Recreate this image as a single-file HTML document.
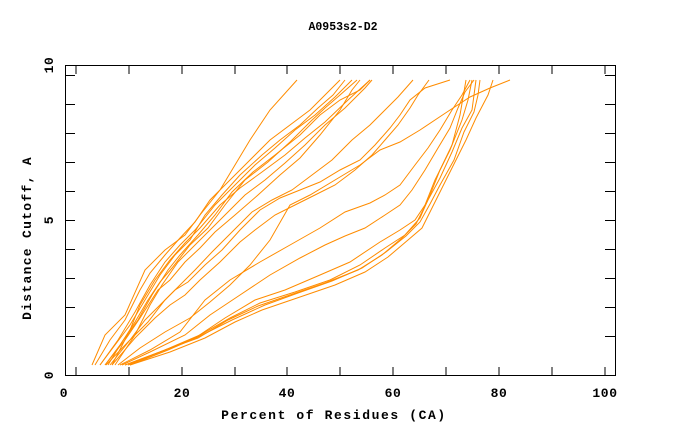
<!DOCTYPE html>
<html><head><meta charset="utf-8"><style>
html,body{margin:0;padding:0;background:#fff;}
svg text{font-family:"Liberation Mono",monospace;font-weight:bold;font-size:13px;fill:#000;}
</style></head><body>
<svg width="680" height="440" xmlns="http://www.w3.org/2000/svg">
<text x="343" y="30" text-anchor="middle" style="font-size:11.5px">A0953s2-D2</text>
<g stroke="#000" stroke-width="1" fill="none">
<rect x="65.5" y="65.5" width="550" height="310"/>
<path d="M76,375v-8M129,375v-8M182,375v-8M235,375v-8M287,375v-8M340,375v-8M393,375v-8M446,375v-8M499,375v-8M552,375v-8M605,375v-8
M76,66v8M129,66v8M182,66v8M235,66v8M287,66v8M340,66v8M393,66v8M446,66v8M499,66v8M552,66v8M605,66v8
M65,75.5h10M65,104.5h10M65,133.5h10M65,162.5h10M65,191.5h10M65,220.5h10M65,249.5h10M65,278.5h10M65,307.5h10M65,336.5h10
M615,75.5h-10M615,104.5h-10M615,133.5h-10M615,162.5h-10M615,191.5h-10M615,220.5h-10M615,249.5h-10M615,278.5h-10M615,307.5h-10M615,336.5h-10"/>
</g>
<g style="letter-spacing:0.6px">
<text x="64" y="397" text-anchor="middle">0</text>
<text x="182" y="397" text-anchor="middle">20</text>
<text x="287" y="397" text-anchor="middle">40</text>
<text x="393" y="397" text-anchor="middle">60</text>
<text x="499" y="397" text-anchor="middle">80</text>
<text x="605" y="397" text-anchor="middle">100</text>
<text transform="translate(53,375) rotate(-90)" text-anchor="middle">0</text>
<text transform="translate(53,220) rotate(-90)" text-anchor="middle">5</text>
<text transform="translate(53,65) rotate(-90)" text-anchor="middle">10</text>
</g>
<text x="334" y="419" text-anchor="middle" style="letter-spacing:1.6px">Percent of Residues (CA)</text>
<text transform="translate(31,238) rotate(-90)" text-anchor="middle" style="letter-spacing:1.3px">Distance Cutoff, A</text>
<g stroke="#ff8c00" stroke-width="1" fill="none">
<polyline points="92,365 105,335 125,315 145,270 165,250 185,235 200,215 220,190 235,165 250,140 270,110 297,80"/>
<polyline points="95,365 110,340 125,320 140,290 150,273 165,255 180,238 195,222 210,200 230,180 250,160 270,140 290,125 310,110 325,95 340,80"/>
<polyline points="100,365 115,345 130,325 145,300 160,275 175,255 190,240 205,215 222,195 240,175 262,155 280,140 300,125 318,108 333,95 345,80"/>
<polyline points="100,365 118,340 135,312 150,285 165,262 180,245 195,230 215,205 235,185 255,165 275,148 295,130 315,115 335,97 352,80"/>
<polyline points="105,365 120,345 135,322 148,300 160,282 172,268 190,245 208,228 225,205 245,180 268,162 290,142 310,122 325,108 340,95 357,80"/>
<polyline points="108,365 122,342 138,320 152,295 168,270 180,255 198,235 215,215 232,192 253,172 275,155 300,135 320,115 340,100 360,90 370,80"/>
<polyline points="112,365 130,330 140,305 155,280 170,260 185,243 200,228 220,205 240,188 262,172 285,155 305,138 325,122 348,100 370,80"/>
<polyline points="115,365 135,335 150,305 162,285 178,262 190,250 205,235 225,215 245,195 265,180 285,163 305,145 325,125 345,108 365,88 372,80"/>
<polyline points="105,365 125,340 140,318 158,290 170,280 185,262 200,248 215,232 235,215 258,195 280,175 300,158 320,135 340,110 352,90 360,80"/>
<polyline points="110,365 130,340 145,320 160,305 175,290 188,282 205,265 222,250 240,230 260,210 280,198 300,190 320,182 340,170 360,160 375,145 390,128 400,115 410,100 425,88 450,80"/>
<polyline points="112,365 135,338 155,318 170,305 185,295 200,280 220,262 240,242 255,230 275,215 295,205 315,195 335,185 355,170 372,155 385,140 398,125 410,108 418,95 429,80"/>
<polyline points="106,365 128,342 148,322 165,300 180,285 195,270 212,252 232,232 252,212 272,200 292,190 312,175 332,160 352,140 370,125 385,110 398,97 413,80"/>
<polyline points="118,365 140,348 165,332 190,318 210,302 230,285 250,265 270,240 290,205 310,195 340,177 360,165 380,150 400,142 420,130 447,112 470,97 490,88 510,80"/>
<polyline points="120,365 150,350 180,332 205,300 230,280 260,262 290,245 320,228 345,212 370,203 385,195 400,185 415,165 428,148 440,130 452,110 462,95 470,80"/>
<polyline points="122,365 150,352 185,335 210,315 240,295 270,275 300,258 325,245 345,236 365,228 385,215 400,205 412,190 425,170 438,148 450,128 458,108 465,92 474,80"/>
<polyline points="125,365 160,352 195,338 225,318 255,300 285,290 320,275 350,262 380,242 400,230 415,220 425,205 435,180 450,150 462,120 468,100 472,80"/>
<polyline points="125,365 165,350 200,335 230,318 260,303 295,292 330,280 360,265 385,248 405,235 420,218 430,195 440,170 452,145 460,115 466,80"/>
<polyline points="128,365 165,350 198,338 228,320 258,306 290,295 325,283 358,270 382,255 402,238 416,224 428,200 440,178 452,152 462,128 472,110 476,80"/>
<polyline points="130,365 170,352 205,338 235,322 262,310 300,297 335,285 365,272 388,257 408,240 422,228 432,208 442,188 456,160 466,140 476,118 488,95 493,80"/>
<polyline points="130,365 168,350 200,336 232,320 265,305 298,293 332,281 362,268 386,252 406,236 420,222 430,204 440,185 454,160 464,132 474,112 478,95 480,80"/>
</g>
</svg>
</body></html>
